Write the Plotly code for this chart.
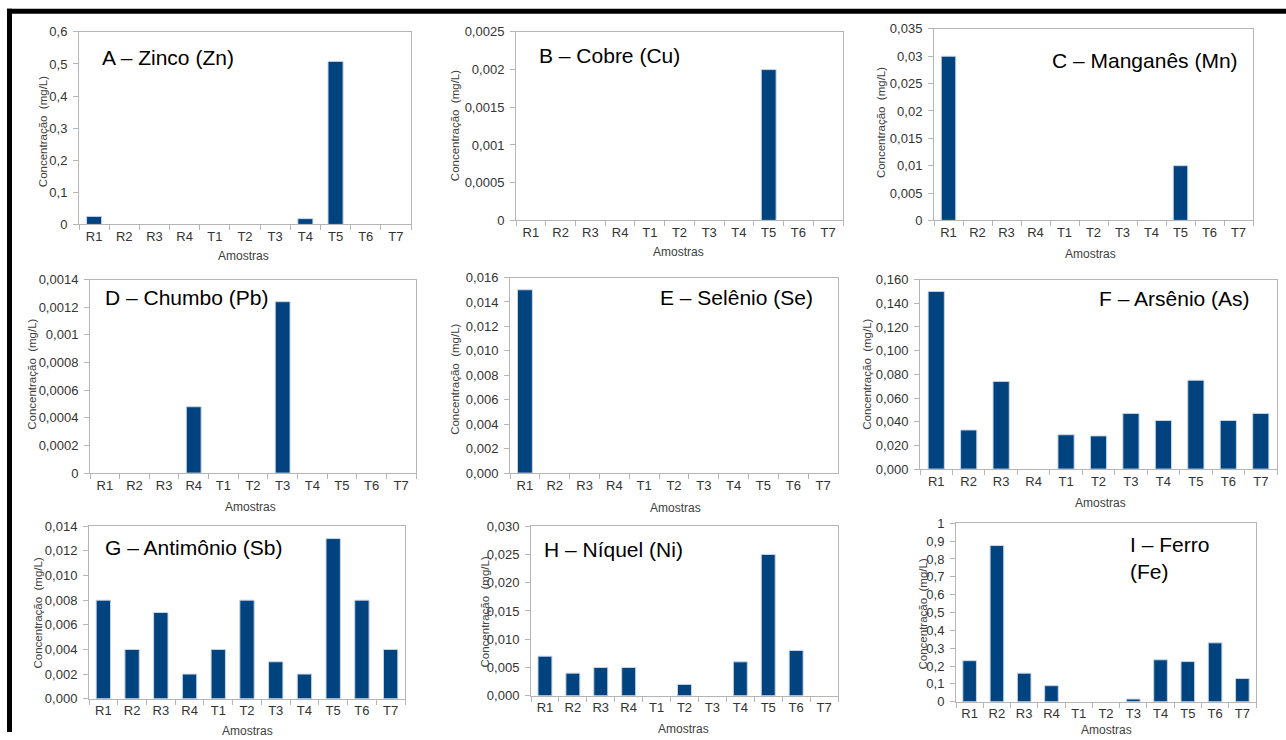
import plotly.graph_objects as go

W, H = 1286, 740

samples = ["R1", "R2", "R3", "R4", "T1", "T2", "T3", "T4", "T5", "T6", "T7"]

zinco = [0.025, 0, 0, 0, 0, 0, 0, 0.018, 0.508, 0, 0]
cobre = [0, 0, 0, 0, 0, 0, 0, 0, 0.002, 0, 0]
manganes = [0.03, 0, 0, 0, 0, 0, 0, 0, 0.01, 0, 0]
chumbo = [0, 0, 0, 0.00048, 0, 0, 0.00124, 0, 0, 0, 0]
selenio = [0.015, 0, 0, 0, 0, 0, 0, 0, 0, 0, 0]
arsenio = [0.150, 0.033, 0.074, 0, 0.029, 0.028, 0.047, 0.041, 0.075, 0.041, 0.047]
antimonio = [0.008, 0.004, 0.007, 0.002, 0.004, 0.008, 0.003, 0.002, 0.013, 0.008, 0.004]
niquel = [0.007, 0.004, 0.005, 0.005, 0, 0.002, 0, 0.006, 0.025, 0.008, 0]
ferro = [0.23, 0.875, 0.16, 0.09, 0, 0, 0.015, 0.235, 0.225, 0.33, 0.13]

titles = ["A – Zinco (Zn)", "B – Cobre (Cu)", "C – Manganês (Mn)",
          "D – Chumbo (Pb)", "E – Selênio (Se)", "F – Arsênio (As)",
          "G – Antimônio (Sb)", "H – Níquel (Ni)", "I – Ferro<br>(Fe)"]

ticks_A = [0, 0.1, 0.2, 0.3, 0.4, 0.5, 0.6]
labels_A = ["0", "0,1", "0,2", "0,3", "0,4", "0,5", "0,6"]
ticks_B = [0, 0.0005, 0.001, 0.0015, 0.002, 0.0025]
labels_B = ["0", "0,0005", "0,001", "0,0015", "0,002", "0,0025"]
ticks_C = [0, 0.005, 0.01, 0.015, 0.02, 0.025, 0.03, 0.035]
labels_C = ["0", "0,005", "0,01", "0,015", "0,02", "0,025", "0,03", "0,035"]
ticks_D = [0, 0.0002, 0.0004, 0.0006, 0.0008, 0.001, 0.0012, 0.0014]
labels_D = ["0", "0,0002", "0,0004", "0,0006", "0,0008", "0,001", "0,0012", "0,0014"]
ticks_E = [0, 0.002, 0.004, 0.006, 0.008, 0.010, 0.012, 0.014, 0.016]
labels_E = ["0,000", "0,002", "0,004", "0,006", "0,008", "0,010", "0,012", "0,014", "0,016"]
ticks_F = [0, 0.02, 0.04, 0.06, 0.08, 0.10, 0.12, 0.14, 0.16]
labels_F = ["0,000", "0,020", "0,040", "0,060", "0,080", "0,100", "0,120", "0,140", "0,160"]
ticks_G = [0, 0.002, 0.004, 0.006, 0.008, 0.010, 0.012, 0.014]
labels_G = ["0,000", "0,002", "0,004", "0,006", "0,008", "0,010", "0,012", "0,014"]
ticks_H = [0, 0.005, 0.010, 0.015, 0.020, 0.025, 0.030]
labels_H = ["0,000", "0,005", "0,010", "0,015", "0,020", "0,025", "0,030"]
ticks_I = [0, 0.1, 0.2, 0.3, 0.4, 0.5, 0.6, 0.7, 0.8, 0.9, 1.0]
labels_I = ["0", "0,1", "0,2", "0,3", "0,4", "0,5", "0,6", "0,7", "0,8", "0,9", "1"]

series = [zinco, cobre, manganes, chumbo, selenio, arsenio, antimonio, niquel, ferro]
ticks = [ticks_A, ticks_B, ticks_C, ticks_D, ticks_E, ticks_F, ticks_G, ticks_H, ticks_I]
labels = [labels_A, labels_B, labels_C, labels_D, labels_E, labels_F, labels_G, labels_H, labels_I]

# plot areas in pixels: x0, x1, y0 (top), y1 (bottom)
boxes = [
    (79, 411, 33, 225), (516, 843, 33, 221), (934, 1253, 30, 221),
    (90, 416, 280, 473), (510, 838, 278, 473), (920, 1277, 280, 469),
    (89, 405, 526, 698), (531, 838, 526, 695), (956, 1256, 523, 701),
]
# title positions (left x, center y)
title_pos = [(100, 59), (537, 57), (1050, 62), (103, 298), (658, 298), (1097, 299),
             (103, 547), (542, 549), (1128, 558)]
ytitle_pos = [(43, 133), (455, 127), (881, 124), (32, 375), (455, 380), (867, 375),
              (38, 613), (485, 612), (923, 613)]
xtitle_pos = [(243, 257), (678, 253), (1090, 255), (250, 507), (675, 508), (1100, 503),
              (247, 730), (683, 728), (1106, 729)]

# the page photo maps figure y -> 0.977*y + 8.2; compensate so marks land where intended
SY, OY = 0.977, 8.2

def px(x):
    return x / W

def py(y):
    return 1 - ((y - OY) / SY) / H

FONT = "Arial, Liberation Sans, sans-serif"
BAR = "#00437f"
AXC = "#b5b5b5"

fig = go.Figure()
layout = {}
annotations = []
for i, (vals, tv, tt, box) in enumerate(zip(series, ticks, labels, boxes)):
    n = "" if i == 0 else str(i + 1)
    fig.add_trace(go.Bar(
        x=samples, y=vals, xaxis="x" + n, yaxis="y" + n,
        marker=dict(color=BAR, line=dict(color="#c9d5e6",
                                         width=[1 if v > 0 else 0 for v in vals])),
        width=0.5, showlegend=False, hoverinfo="skip",
    ))
    x0, x1, y0, y1 = box
    layout["xaxis" + n] = dict(
        domain=[px(x0), px(x1)], anchor="y" + n, type="category",
        range=[-0.5, 10.5], showline=True, linecolor=AXC, linewidth=1,
        mirror=True, ticks="outside", tickson="boundaries", ticklen=5,
        tickcolor=AXC, showgrid=False, zeroline=False,
        tickfont=dict(family=FONT, size=13, color="#333333"), fixedrange=True,
    )
    layout["yaxis" + n] = dict(
        domain=[py(y1), py(y0)], anchor="x" + n, range=[0, tv[-1]],
        tickvals=tv, ticktext=tt, showline=True, linecolor=AXC, linewidth=1,
        mirror=True, ticks="outside", ticklen=5, tickcolor=AXC,
        showgrid=False, zeroline=False, ticklabelstandoff=3,
        tickfont=dict(family=FONT, size=13, color="#333333"), fixedrange=True,
    )
    tx, ty = title_pos[i]
    annotations.append(dict(
        text=titles[i], x=px(tx), y=py(ty), xref="paper", yref="paper",
        xanchor="left", yanchor="middle", showarrow=False, align="left",
        font=dict(family=FONT, size=21, color="#000000"),
    ))
    yx, yy = ytitle_pos[i]
    annotations.append(dict(
        text="Concentração  (mg/L)", x=px(yx), y=py(yy), xref="paper", yref="paper",
        xanchor="center", yanchor="middle", showarrow=False, textangle=-90,
        font=dict(family=FONT, size=11.5, color="#404040"),
    ))
    ax, ay = xtitle_pos[i]
    annotations.append(dict(
        text="Amostras", x=px(ax), y=py(ay), xref="paper", yref="paper",
        xanchor="center", yanchor="middle", showarrow=False,
        font=dict(family=FONT, size=12, color="#404040"),
    ))

shapes = [
    dict(type="line", xref="paper", yref="paper", x0=px(7), x1=1.0, y0=py(12.5), y1=py(12.5),
         line=dict(color="#000000", width=5)),
    dict(type="line", xref="paper", yref="paper", x0=px(9.5), x1=px(9.5), y0=py(10), y1=0,
         line=dict(color="#000000", width=5)),
]

fig.update_layout(
    width=W, height=H, margin=dict(l=0, r=0, t=0, b=0),
    paper_bgcolor="white", plot_bgcolor="white",
    annotations=annotations, shapes=shapes, bargap=0.5,
    hovermode=False,
    **layout,
)

post = (
    "var s=document.createElement('style');"
    "s.innerHTML='html,body{margin:0!important;padding:0!important;overflow:hidden;}"
    ".plotly-graph-div{display:block;}';"
    "document.head.appendChild(s);"
)

fig.write_html("out.html", config={"displayModeBar": False, "staticPlot": True},
               post_script=post)
